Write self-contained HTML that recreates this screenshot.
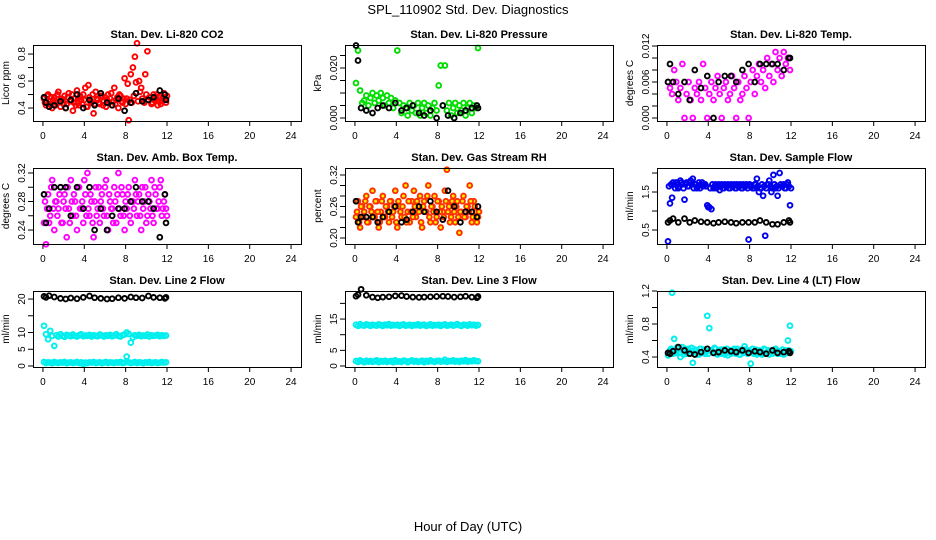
<!DOCTYPE html>
<html><head><meta charset="utf-8"><style>
html,body{margin:0;padding:0;background:#fff;}
svg{display:block;font-family:"Liberation Sans",sans-serif;}
</style></head><body>
<svg id="chart" width="936" height="540" viewBox="0 0 936 540">
<text x="468" y="14" text-anchor="middle" font-size="13">SPL_110902  Std. Dev. Diagnostics</text>
<text x="468" y="531" text-anchor="middle" font-size="13">Hour of Day (UTC)</text>
</svg>
<script>
// ---- data ----
const xTicks = [0,4,8,12,16,20,24];
const tC = [0.1,0.3,0.5,0.7,0.9,1.1,1.3,1.5,1.7,1.9,2.1,2.3,2.5,2.7,2.9,3.1,3.3,3.5,3.7,3.9,4.1,4.3,4.5,4.7,4.9,5.1,5.3,5.5,5.7,5.9,6.1,6.3,6.5,6.7,6.9,7.1,7.3,7.5,7.7,7.9,8.1,8.3,8.5,8.7,8.9,9.1,9.3,9.5,9.7,9.9,10.1,10.3,10.5,10.7,10.9,11.1,11.3,11.5,11.7,11.9];
const tD = [0.2,0.4,0.6,0.8,1.0,1.2,1.4,1.6,1.8,2.0,2.2,2.4,2.6,2.8,3.0,3.2,3.4,3.6,3.8,4.0,4.2,4.4,4.6,4.8,5.0,5.2,5.4,5.6,5.8,6.0,6.2,6.4,6.6,6.8,7.0,7.2,7.4,7.6,7.8,8.0,8.2,8.4,8.6,8.8,9.0,9.2,9.4,9.6,9.8,10.0,10.2,10.4,10.6,10.8,11.0,11.2,11.4,11.6,11.8,12.0];
const tB = [0.1,0.3,0.6,1.1,1.7,2.2,2.7,3.3,3.9,4.5,5.0,5.6,6.2,6.7,7.3,7.9,8.5,9.0,9.6,10.2,10.7,11.3,11.8,11.9];

const co2 = [0.47,0.42,0.50,0.45,0.40,0.48,0.44,0.52,0.41,0.46,0.49,0.43,0.51,0.45,0.38,0.47,0.53,0.42,0.46,0.50,0.55,0.41,0.48,0.44,0.36,0.52,0.46,0.43,0.49,0.45,0.41,0.50,0.47,0.42,0.55,0.46,0.40,0.49,0.44,0.62,0.47,0.31,0.65,0.70,0.78,0.88,0.60,0.55,0.45,0.65,0.82,0.48,0.43,0.50,0.46,0.42,0.49,0.45,0.51,0.44];
const co2b = [0.44,0.49,0.43,0.48,0.46,0.42,0.50,0.45,0.47,0.43,0.40,0.48,0.45,0.50,0.44,0.42,0.47,0.49,0.43,0.46,0.41,0.57,0.45,0.50,0.43,0.47,0.44,0.49,0.42,0.48,0.46,0.44,0.51,0.45,0.43,0.48,0.50,0.45,0.47,0.43,0.58,0.46,0.44,0.49,0.59,0.45,0.52,0.47,0.44,0.50,0.46,0.48,0.44,0.47,0.50,0.45,0.43,0.48,0.46,0.49];
const co2B = [0.48,0.44,0.41,0.42,0.45,0.40,0.46,0.50,0.40,0.46,0.42,0.51,0.44,0.42,0.47,0.38,0.44,0.51,0.45,0.46,0.48,0.53,0.50,0.46];

const pres = [0.014,0.027,0.011,0.006,0.007,0.009,0.005,0.008,0.010,0.006,0.009,0.007,0.010,0.008,0.005,0.009,0.006,0.008,0.004,0.007,0.027,0.006,0.002,0.005,0.004,0.001,0.006,0.003,0.005,0.002,0.006,0.001,0.004,0.006,0.002,0.005,0.001,0.004,0.006,0.003,0.013,0.021,0.005,0.021,0.003,0.006,0.001,0.004,0.006,0.002,0.005,0.003,0.006,0.001,0.004,0.006,0.002,0.005,0.004,0.028];
const presB = [0.029,0.023,0.004,0.003,0.002,0.004,0.005,0.004,0.006,0.003,0.004,0.005,0.002,0.001,0.003,0.000,0.005,0.001,0.000,0.002,0.003,0.004,0.005,0.004];

const temp = [0.006,0.005,0.004,0.008,0.006,0.003,0.005,0.009,0,0.004,0.006,0.003,0,0.005,0.004,0.006,0.003,0.009,0.005,0,0.004,0.006,0.003,0.005,0.007,0.004,0,0.005,0.006,0.003,0.004,0.007,0.005,0,0.006,0.003,0.004,0.007,0.005,0,0.006,0.008,0.004,0.007,0.009,0.006,0.008,0.005,0.010,0.007,0.009,0.006,0.011,0.008,0.010,0.007,0.011,0.009,0.010,0.008];
const tempB = [0.006,0.009,0.006,0.004,0.006,0.003,0.008,0.005,0.007,0.000,0.006,0.007,0.007,0.006,0.008,0.009,0.006,0.009,0.009,0.009,0.009,0.008,0.010,0.010];

const amb = [0.25,0.22,0.29,0.26,0.31,0.24,0.28,0.27,0.30,0.25,0.29,0.23,0.27,0.31,0.26,0.28,0.24,0.30,0.27,0.25,0.29,0.32,0.26,0.28,0.23,0.30,0.27,0.25,0.29,0.26,0.31,0.24,0.28,0.27,0.30,0.25,0.32,0.26,0.29,0.24,0.27,0.30,0.25,0.28,0.31,0.26,0.29,0.24,0.27,0.30,0.26,0.28,0.31,0.25,0.29,0.27,0.30,0.26,0.28,0.27];
const amb2 = [0.28,0.27,0.25,0.30,0.27,0.28,0.26,0.29,0.25,0.28,0.27,0.30,0.25,0.28,0.29,0.26,0.30,0.27,0.28,0.31,0.26,0.27,0.29,0.25,0.28,0.26,0.30,0.28,0.27,0.30,0.26,0.29,0.27,0.25,0.28,0.29,0.27,0.30,0.26,0.28,0.29,0.26,0.28,0.27,0.29,0.28,0.26,0.30,0.28,0.25,0.29,0.27,0.26,0.30,0.27,0.28,0.31,0.27,0.29,0.26];
const ambB = [0.29,0.25,0.27,0.30,0.30,0.30,0.26,0.30,0.27,0.30,0.24,0.27,0.24,0.26,0.27,0.27,0.28,0.30,0.28,0.28,0.27,0.23,0.29,0.25];

const rh = [0.24,0.27,0.22,0.26,0.25,0.28,0.23,0.26,0.29,0.24,0.27,0.22,0.25,0.28,0.24,0.26,0.23,0.27,0.25,0.29,0.22,0.26,0.24,0.28,0.30,0.25,0.23,0.27,0.29,0.24,0.26,0.28,0.22,0.27,0.25,0.30,0.23,0.26,0.28,0.24,0.27,0.22,0.25,0.29,0.33,0.26,0.24,0.28,0.23,0.27,0.21,0.25,0.28,0.24,0.26,0.30,0.23,0.27,0.25,0.24];
const rh2 = [0.25,0.23,0.26,0.24,0.27,0.23,0.26,0.25,0.24,0.27,0.25,0.23,0.27,0.24,0.26,0.25,0.27,0.24,0.26,0.23,0.27,0.25,0.26,0.24,0.23,0.27,0.25,0.24,0.26,0.27,0.25,0.23,0.26,0.25,0.28,0.24,0.26,0.25,0.23,0.27,0.25,0.26,0.24,0.27,0.25,0.23,0.27,0.25,0.26,0.24,0.25,0.27,0.24,0.26,0.25,0.27,0.24,0.26,0.23,0.25];
const rhB = [0.27,0.23,0.24,0.24,0.24,0.23,0.24,0.25,0.26,0.23,0.235,0.25,0.26,0.25,0.27,0.25,0.235,0.29,0.26,0.23,0.25,0.25,0.24,0.26];

const flow = [0.2,1.2,1.35,1.7,1.75,1.6,1.8,1.7,1.3,1.75,1.65,1.8,1.85,1.7,1.6,1.75,1.7,1.65,1.7,1.15,1.1,1.05,1.6,1.7,1.65,1.55,1.7,1.6,1.65,1.7,1.6,1.65,1.7,1.6,1.65,1.7,1.6,1.65,1.7,0.25,1.65,1.6,1.7,1.85,1.5,1.6,1.4,0.35,1.7,1.8,1.5,1.95,1.6,1.4,2.0,1.65,1.7,1.6,1.75,1.15];
const flow2 = [1.65,1.7,1.75,1.6,1.7,1.65,1.75,1.6,1.7,1.65,1.75,1.7,1.6,1.7,1.65,1.6,1.75,1.7,1.65,1.1,1.6,1.7,1.65,1.6,1.7,1.65,1.6,1.7,1.65,1.6,1.7,1.65,1.6,1.7,1.65,1.6,1.7,1.65,1.6,1.7,1.65,1.6,1.7,1.65,1.6,1.7,1.65,1.6,1.7,1.65,1.6,1.7,1.65,1.6,1.7,1.65,1.6,1.7,1.65,1.6];
const flowB = [0.7,0.75,0.8,0.7,0.8,0.7,0.75,0.72,0.7,0.68,0.7,0.72,0.7,0.68,0.7,0.7,0.7,0.75,0.7,0.65,0.65,0.7,0.75,0.7];

const l2mid = [12,9.5,8,10.5,9,6,9.2,8.8,9.5,9,8.7,9.3,9.1,8.9,9.4,9,8.8,9.2,9.5,8.9,9.1,9,9.3,8.8,9.2,9,8.9,9.4,9.1,8.8,9.2,9,9.3,8.9,9.1,9.5,9,8.8,9.2,9.4,10,9.6,7,8.5,9.2,9,9.3,8.9,9.1,9,9.4,8.8,9.2,9,9.1,9.3,8.9,9.2,9,9.1];
const l2low = [1.2,0.9,1.1,1.0,0.8,1.2,1.0,0.9,1.1,1.0,1.2,0.8,1.0,1.1,0.9,1.0,1.2,0.9,1.1,0.6,1.0,0.9,1.1,1.0,1.2,0.9,1.0,1.1,0.8,1.0,1.2,0.9,1.1,1.0,0.9,1.1,1.0,1.2,0.9,1.0,2.8,1.1,0.9,1.0,1.2,0.9,1.1,1.0,0.8,1.1,1.0,1.2,0.9,1.0,1.1,0.9,1.0,1.2,1.0,1.1];
const l2B = [20.8,20.5,21.0,20.6,20.2,20.0,20.3,20.1,20.5,20.9,20.4,20.2,20.0,20.1,20.4,20.2,20.6,20.4,20.3,20.9,20.5,20.4,20.2,20.5];

const l3mid = [13.2,12.8,13.4,13.0,12.9,13.3,13.1,12.8,13.2,13.0,12.9,13.3,13.1,12.8,13.2,13.0,13.4,12.9,13.1,13.0,13.2,12.8,13.1,13.3,12.9,13.0,13.2,12.8,13.1,13.0,13.3,12.9,13.1,13.2,12.8,13.0,13.3,12.9,13.1,13.0,13.2,12.8,13.1,13.3,12.9,13.0,13.2,12.9,13.1,13.4,13.0,12.8,13.2,13.1,12.9,13.3,13.0,13.2,12.9,13.1];
const l3low = [1.6,1.3,1.8,1.5,1.2,1.7,1.4,1.6,1.3,1.5,1.8,1.2,1.6,1.4,1.7,1.3,1.5,1.6,1.2,1.8,1.4,1.5,1.3,1.7,1.6,1.2,1.5,1.8,1.4,1.6,1.3,1.5,1.7,1.2,1.6,1.4,1.8,1.5,1.3,1.6,1.7,1.4,1.5,2.0,1.3,1.6,1.5,1.8,1.4,1.6,1.3,1.7,1.5,1.9,1.4,1.6,1.5,1.8,1.6,1.5];
const l3B = [22.3,22.8,24.5,22.6,22.0,21.8,22.0,22.1,22.4,22.5,22.2,22.0,21.9,22.0,22.1,22.2,22.3,22.2,22.0,22.1,22.3,22.0,21.8,22.2];

const l4 = [0.42,0.48,1.18,0.62,0.45,0.50,0.40,0.52,0.46,0.44,0.50,0.47,0.33,0.49,0.45,0.43,0.50,0.46,0.44,0.90,0.75,0.48,0.45,0.50,0.43,0.47,0.44,0.49,0.46,0.42,0.48,0.45,0.50,0.44,0.47,0.43,0.49,0.53,0.45,0.48,0.32,0.50,0.46,0.43,0.48,0.45,0.44,0.49,0.46,0.43,0.47,0.45,0.50,0.44,0.47,0.46,0.43,0.48,0.60,0.78];
const l4b = [0.46,0.50,0.44,0.48,0.52,0.45,0.49,0.43,0.50,0.47,0.44,0.51,0.46,0.48,0.43,0.50,0.45,0.49,0.47,0.44,0.48,0.46,0.51,0.44,0.47,0.49,0.45,0.43,0.50,0.46,0.44,0.48,0.46,0.50,0.43,0.47,0.45,0.49,0.44,0.47,0.46,0.44,0.49,0.45,0.47,0.43,0.50,0.45,0.48,0.46,0.44,0.49,0.45,0.47,0.44,0.49,0.46,0.45,0.48,0.47];
const l4B = [0.45,0.44,0.47,0.52,0.48,0.44,0.43,0.46,0.50,0.45,0.46,0.48,0.47,0.46,0.48,0.45,0.47,0.46,0.44,0.48,0.45,0.46,0.47,0.45];

// ---- layout ----
const NS = "http://www.w3.org/2000/svg";
const svg = document.getElementById('chart');
const colL = [33,345,657], rowT = [45,168,291], PW = 268, PH = 76;
const XMIN = -0.96, XMAX = 24.96;
const panels = [
 {name:'co2',title:'Stan. Dev. Li-820 CO2',ylab:'Licor ppm',y0:0.304,y1:0.867,ticks:[0.4,0.5,0.6,0.7,0.8],labels:[0.4,0.6,0.8],dec:1,series:[[tC,co2,'#ff0000',null],[tD,co2b,'#ff0000',null],[tB,co2B,'#000',null]]},
 {name:'pressure',title:'Stan. Dev. Li-820 Pressure',ylab:'kPa',y0:-0.0012,y1:0.0292,ticks:[0,0.005,0.01,0.015,0.02,0.025],labels:[0,0.02],dec:3,series:[[tC,pres,'#00dd00',null],[tB,presB,'#000',null]]},
 {name:'temp',title:'Stan. Dev. Li-820 Temp.',ylab:'degrees C',y0:-0.0005,y1:0.01217,ticks:[0,0.002,0.004,0.006,0.008,0.010,0.012],labels:[0,0.006,0.012],dec:3,series:[[tC,temp,'#ff00ff',null],[tB,tempB,'#000',null]]},
 {name:'amb-box-temp',title:'Stan. Dev. Amb. Box Temp.',ylab:'degrees C',y0:0.2204,y1:0.327,ticks:[0.24,0.26,0.28,0.30,0.32],labels:[0.24,0.28,0.32],dec:2,series:[[tC,amb,'#ff00ff',null],[tD,amb2,'#ff00ff',null],[tB,ambB,'#000',null]]},
 {name:'gas-stream-rh',title:'Stan. Dev. Gas Stream RH',ylab:'percent',y0:0.1886,y1:0.3333,ticks:[0.20,0.22,0.24,0.26,0.28,0.30,0.32],labels:[0.20,0.26,0.32],dec:2,series:[[tC,rh,'#ff3000','#ffee00'],[tD,rh2,'#ff3000','#ffee00'],[tB,rhB,'#000',null]]},
 {name:'sample-flow',title:'Stan. Dev. Sample Flow',ylab:'ml/min',y0:0.132,y1:2.132,ticks:[0.5,1.0,1.5,2.0],labels:[0.5,1.5],dec:1,series:[[tC,flow,'#0000ee',null],[tD,flow2,'#0000ee',null],[tB,flowB,'#000',null]]},
 {name:'line2-flow',title:'Stan. Dev. Line 2 Flow',ylab:'ml/min',y0:-0.3,y1:22.4,ticks:[0,5,10,15,20],labels:[0,5,10,20],dec:0,series:[[tC,l2mid,'#00eeee',null],[tC,l2low,'#00eeee',null],[tB,l2B,'#000',null]]},
 {name:'line3-flow',title:'Stan. Dev. Line 3 Flow',ylab:'ml/min',y0:-0.32,y1:23.96,ticks:[0,5,10,15,20],labels:[0,5,15],dec:0,series:[[tC,l3mid,'#00eeee',null],[tC,l3low,'#00eeee',null],[tB,l3B,'#000',null]]},
 {name:'line4-flow',title:'Stan. Dev. Line 4 (LT) Flow',ylab:'ml/min',y0:0.279,y1:1.2,ticks:[0.4,0.6,0.8,1.0,1.2],labels:[0.4,0.8,1.2],dec:1,series:[[tC,l4,'#00eeee',null],[tD,l4b,'#00eeee',null],[tB,l4B,'#000',null]]}
];
function mk(tag, attrs, parent){
  const e = document.createElementNS(NS, tag);
  for (const k in attrs) e.setAttribute(k, attrs[k]);
  (parent||svg).appendChild(e); return e;
}
panels.forEach((p, i) => {
  const L = colL[i%3], T = rowT[Math.floor(i/3)], B = T+PH, R = L+PW;
  const xs = v => L + (v - XMIN)/(XMAX - XMIN)*PW;
  const ys = v => B - (v - p.y0)/(p.y1 - p.y0)*PH;
  const g = mk('g', {});
  
  
  const tt = mk('text', {x:(L+R)/2, y:T-7, 'text-anchor':'middle','font-size':11,'font-weight':'bold'}, g);
  tt.textContent = p.title;
  
  
  p.series.forEach(s => {
    const sg = mk('g', {fill: s[3]||'none', stroke: s[2], 'stroke-width':1.9}, g);
    
    
    s[0].forEach((t, k) => {
      const c = mk('circle', {cx: xs(t).toFixed(1), cy: ys(s[1][k]).toFixed(1), r: 2.4}, sg);
      
      
    });
  });
  const box = mk('rect', {x:L+0.5, y:T+0.5, width:PW, height:PH, fill:'none', stroke:'#000','stroke-width':1}, g);
  
  
  const xa = mk('g', {stroke:'#000'}, g);
  
  
  mk('line', {x1:xs(0), x2:xs(24), y1:B+0.5, y2:B+0.5}, xa);
  xTicks.forEach(v => {
    mk('line', {x1:xs(v), x2:xs(v), y1:B, y2:B+5}, xa);
    const tx = mk('text', {x:xs(v), y:B+18, 'text-anchor':'middle','font-size':10, stroke:'none', fill:'#000'}, xa);
    tx.textContent = v;
    
    
  });
  const ya = mk('g', {stroke:'#000'}, g);
  
  
  mk('line', {x1:L+0.5, x2:L+0.5, y1:ys(p.ticks[0]), y2:ys(p.ticks[p.ticks.length-1])}, ya);
  p.ticks.forEach(v => mk('line', {x1:L-5, x2:L, y1:ys(v), y2:ys(v)}, ya));
  p.labels.forEach(v => {
    const y = ys(v);
    const tx = mk('text', {x:L-8, y:y, 'text-anchor':'middle','font-size':10, stroke:'none', fill:'#000', transform:`rotate(-90 ${L-8} ${y})`}, ya);
    tx.textContent = v.toFixed(p.dec);
    
    
  });
  const yl = mk('text', {x:L-24, y:(T+B)/2, 'text-anchor':'middle','font-size':10, transform:`rotate(-90 ${L-24} ${(T+B)/2})`}, g);
  yl.textContent = p.ylab;
  
  
});
</script>
</body></html>
